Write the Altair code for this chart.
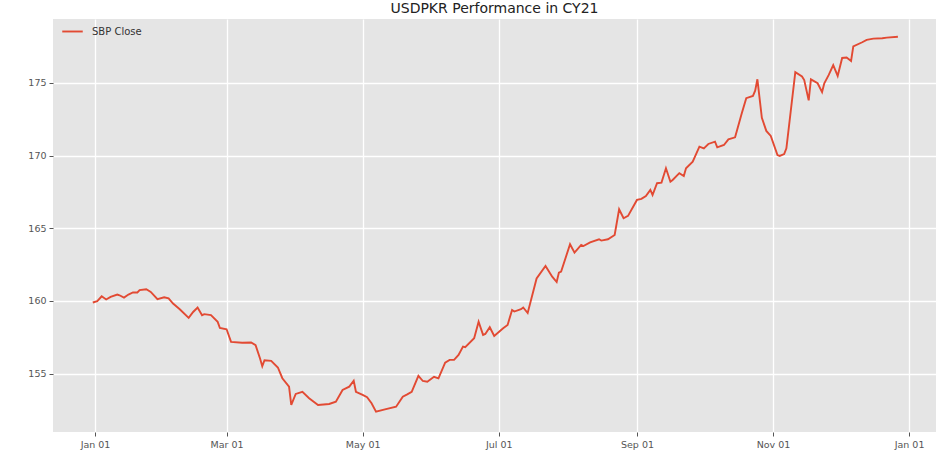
import altair as alt
import pandas as pd

dates = [
    "2020-12-31", "2021-01-02", "2021-01-04", "2021-01-06", "2021-01-08", "2021-01-11",
    "2021-01-12", "2021-01-14", "2021-01-16", "2021-01-18", "2021-01-20", "2021-01-21",
    "2021-01-24", "2021-01-26", "2021-01-29", "2021-02-01", "2021-02-03", "2021-02-05",
    "2021-02-08", "2021-02-12", "2021-02-14", "2021-02-16", "2021-02-18", "2021-02-19",
    "2021-02-22", "2021-02-25", "2021-02-26", "2021-03-01", "2021-03-03", "2021-03-08",
    "2021-03-12", "2021-03-14", "2021-03-16", "2021-03-17", "2021-03-18", "2021-03-21",
    "2021-03-24", "2021-03-26", "2021-03-29", "2021-03-30", "2021-04-01", "2021-04-04",
    "2021-04-07", "2021-04-11", "2021-04-16", "2021-04-19", "2021-04-22", "2021-04-25",
    "2021-04-27", "2021-04-28", "2021-05-01", "2021-05-03", "2021-05-05", "2021-05-07",
    "2021-05-11", "2021-05-16", "2021-05-19", "2021-05-21", "2021-05-23", "2021-05-26",
    "2021-05-28", "2021-05-30", "2021-06-02", "2021-06-04", "2021-06-07", "2021-06-09",
    "2021-06-11", "2021-06-13", "2021-06-15", "2021-06-16", "2021-06-20", "2021-06-22",
    "2021-06-24", "2021-06-25", "2021-06-27", "2021-06-29", "2021-07-03", "2021-07-05",
    "2021-07-07", "2021-07-08", "2021-07-11", "2021-07-12", "2021-07-14", "2021-07-18",
    "2021-07-22", "2021-07-25", "2021-07-27", "2021-07-28", "2021-07-29", "2021-08-02",
    "2021-08-04", "2021-08-07", "2021-08-08", "2021-08-11", "2021-08-15", "2021-08-16",
    "2021-08-19", "2021-08-22", "2021-08-24", "2021-08-26", "2021-08-28", "2021-09-01",
    "2021-09-03", "2021-09-05", "2021-09-07", "2021-09-08", "2021-09-10", "2021-09-12",
    "2021-09-14", "2021-09-16", "2021-09-17", "2021-09-20", "2021-09-22", "2021-09-23",
    "2021-09-26", "2021-09-29", "2021-10-01", "2021-10-03", "2021-10-06", "2021-10-07",
    "2021-10-10", "2021-10-12", "2021-10-15", "2021-10-18", "2021-10-20", "2021-10-23",
    "2021-10-24", "2021-10-25", "2021-10-27", "2021-10-29", "2021-10-31", "2021-11-03",
    "2021-11-04", "2021-11-06", "2021-11-07", "2021-11-11", "2021-11-14", "2021-11-15",
    "2021-11-17", "2021-11-18", "2021-11-21", "2021-11-23", "2021-11-24", "2021-11-26",
    "2021-11-28", "2021-11-30", "2021-12-02", "2021-12-04", "2021-12-06", "2021-12-07",
    "2021-12-11", "2021-12-13", "2021-12-16", "2021-12-20", "2021-12-22", "2021-12-27",
]

sbp_close = [
    159.89, 159.98, 160.32, 160.10, 160.28, 160.44,
    160.39, 160.23, 160.44, 160.58, 160.58, 160.74,
    160.80, 160.62, 160.12, 160.25, 160.17, 159.82,
    159.43, 158.83, 159.24, 159.55, 159.02, 159.09,
    159.02, 158.56, 158.14, 158.05, 157.18, 157.12,
    157.14, 156.96, 156.04, 155.51, 155.92, 155.88,
    155.42, 154.68, 154.10, 152.84, 153.60, 153.75,
    153.30, 152.84, 152.91, 153.07, 153.87, 154.10,
    154.51, 153.75, 153.53, 153.37, 152.96, 152.38,
    152.54, 152.72, 153.41, 153.57, 153.75, 154.85,
    154.49, 154.44, 154.78, 154.67, 155.75, 155.94,
    155.94, 156.28, 156.86, 156.81, 157.43, 158.57,
    157.66, 157.73, 158.19, 157.59, 158.12, 158.35,
    159.38, 159.27, 159.43, 159.55, 159.17, 161.55,
    162.41, 161.67, 161.30, 161.95, 162.02, 163.90,
    163.32, 163.85, 163.78, 164.03, 164.24, 164.15,
    164.24, 164.54, 166.31, 165.69, 165.85, 166.95,
    167.02, 167.22, 167.64, 167.29, 168.10, 168.14,
    169.13, 168.20, 168.32, 168.79, 168.60, 169.13,
    169.58, 170.62, 170.50, 170.80, 170.96, 170.57,
    170.73, 171.12, 171.26, 172.91, 173.95, 174.11,
    174.47, 175.25, 172.60, 171.70, 171.35, 170.04,
    169.98, 170.11, 170.50, 175.74, 175.45, 175.20,
    173.80, 175.25, 174.98, 174.37, 174.98, 175.55,
    176.22, 175.48, 176.72, 176.75, 176.51, 177.52,
    177.80, 177.96, 178.05, 178.08, 178.12, 178.18,
]

series_name = "SBP Close"
title_text = "USDPKR Performance in CY21"
y_ticks = [155, 160, 165, 170, 175]
x_tick_dates = [(2021, 1), (2021, 3), (2021, 5), (2021, 7), (2021, 9), (2021, 11), (2022, 1)]

df = pd.DataFrame({"date": dates, "value": sbp_close, "series": series_name})

x_values = [alt.DateTime(year=y, month=m, date=1, utc=True) for y, m in x_tick_dates]
x_domain = [
    alt.DateTime(year=2020, month=12, date=13, hours=4, utc=True),
    alt.DateTime(year=2022, month=1, date=13, hours=2, utc=True),
]

line = alt.Chart(df).mark_line(strokeWidth=1.9).encode(
    x=alt.X(
        "date:T",
        scale=alt.Scale(type="utc", domain=x_domain, nice=False),
        axis=alt.Axis(values=x_values, format="%b %d", title=None),
    ),
    y=alt.Y(
        "value:Q",
        scale=alt.Scale(domain=[150.98, 179.40], nice=False, zero=False),
        axis=alt.Axis(values=y_ticks, title=None),
    ),
    color=alt.Color(
        "series:N",
        scale=alt.Scale(range=["#E24A33"]),
        legend=alt.Legend(
            title=None,
            orient="none",
            legendX=8,
            legendY=1,
            symbolType="stroke",
            symbolSize=420,
            symbolStrokeWidth=1.9,
            labelFont="DejaVu Sans",
            labelFontSize=10,
            labelColor="#333333",
            labelOffset=8,
            padding=0,
        ),
    ),
)

chart = line.properties(
    width=883,
    height=413,
    autosize=alt.AutoSizeParams(type="none"),
    padding={"left": 53, "top": 19, "right": 14, "bottom": 18},
    background="#FFFFFF",
    title=alt.Title(
        title_text,
        fontSize=14,
        font="DejaVu Sans",
        fontWeight="normal",
        color="#222222",
        offset=3,
        anchor="middle",
    ),
).configure_view(
    fill="#E5E5E5", strokeWidth=0
).configure_axis(
    domain=False,
    grid=True,
    gridColor="#FFFFFF",
    gridWidth=1.3,
    tickColor="#555555",
    tickSize=4,
    labelColor="#555555",
    labelFont="DejaVu Sans",
    labelFontSize=9.5,
    labelPadding=3,
)

chart.save("out.html", embed_options={"renderer": "svg", "actions": False})
